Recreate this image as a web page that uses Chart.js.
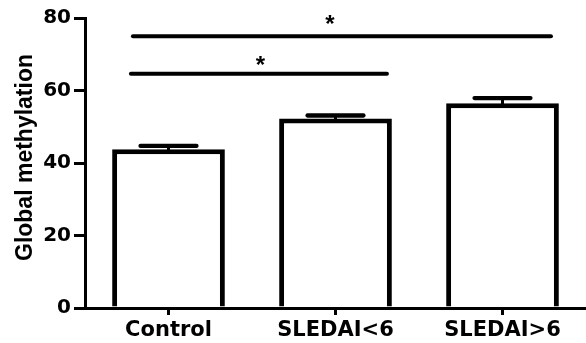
<!DOCTYPE html>
<html><head><meta charset="utf-8">
<script src="https://cdn.jsdelivr.net/npm/chart.js@4/dist/chart.umd.min.js"></script>
<style>html,body{margin:0;padding:0;background:#fff}canvas{display:block}</style>
</head><body>
<canvas id="c" width="586" height="343"></canvas>
<script>
// ---- data ----
const categories = ['Control', 'SLEDAI<6', 'SLEDAI>6'];
const means = [43.8, 52.3, 56.5];
const sem = [0.9, 0.8, 1.4];
const yTickValues = [0, 20, 40, 60, 80];
const yTitle = 'Global methylation';
const sigFrom = [0, 0];
const sigTo = [2, 1];
const sigLevel = [75, 64.6];
const sigLabel = ['*', '*'];

// ---- style constants (not data) ----
const FONT = '"Liberation Sans", Arial, sans-serif';
const WIDE = '"DejaVu Sans", sans-serif';
const BR_START = [-0.213, -0.225];   // fraction of category spacing, relative to "from" category
const BR_END = [0.29, 0.308];        // relative to "to" category
const STAR_X = [0.967, 0.551];       // in category index units
const STAR_DY = [17.5, 14.5];        // px above the line

const errorBars = {
  id: 'errorBars',
  afterDatasetsDraw(chart) {
    const ctx = chart.ctx, y = chart.scales.y;
    const meta = chart.getDatasetMeta(0);
    ctx.save();
    ctx.strokeStyle = '#000';
    meta.data.forEach((bar, i) => {
      const top = y.getPixelForValue(means[i]);
      const cap = y.getPixelForValue(means[i] + sem[i]);
      const half = bar.width * 0.248;
      ctx.lineCap = 'butt';
      ctx.lineWidth = 3;
      ctx.beginPath(); ctx.moveTo(bar.x, top + 1); ctx.lineTo(bar.x, cap); ctx.stroke();
      ctx.lineCap = 'round';
      ctx.lineWidth = 4.3;
      ctx.beginPath(); ctx.moveTo(bar.x - half, cap); ctx.lineTo(bar.x + half, cap); ctx.stroke();
    });
    ctx.restore();
  }
};

const brackets = {
  id: 'brackets',
  afterDraw(chart) {
    const ctx = chart.ctx, x = chart.scales.x, y = chart.scales.y;
    const step = x.getPixelForValue(1) - x.getPixelForValue(0);
    ctx.save();
    ctx.strokeStyle = '#000';
    ctx.fillStyle = '#000';
    ctx.lineCap = 'round';
    ctx.lineWidth = 4;
    sigLevel.forEach((lv, k) => {
      const py = y.getPixelForValue(lv);
      const x0 = x.getPixelForValue(sigFrom[k]) + BR_START[k] * step;
      const x1 = x.getPixelForValue(sigTo[k]) + BR_END[k] * step;
      ctx.beginPath(); ctx.moveTo(x0, py); ctx.lineTo(x1, py); ctx.stroke();
      const sx = x.getPixelForValue(0) + STAR_X[k] * step;
      ctx.font = 'bold 24px ' + FONT;
      ctx.textAlign = 'center';
      ctx.textBaseline = 'alphabetic';
      ctx.fillText(sigLabel[k], sx, py - STAR_DY[k] + 13.5);
    });
    // y-axis title
    ctx.translate(26, 157.5);
    ctx.rotate(-Math.PI / 2);
    ctx.font = 'bold 23px ' + FONT;
    ctx.textAlign = 'center';
    ctx.textBaseline = 'middle';
    ctx.fillText(yTitle, 0, 0);
    ctx.restore();
  }
};

new Chart(document.getElementById('c'), {
  type: 'bar',
  data: {
    labels: categories,
    datasets: [{
      data: means,
      backgroundColor: '#ffffff',
      borderColor: '#000000',
      borderWidth: 5,
      borderSkipped: 'start',
      barPercentage: 0.675,
      categoryPercentage: 1
    }]
  },
  options: {
    responsive: false,
    devicePixelRatio: 1,
    animation: false,
    layout: { padding: { top: 18, right: 0, bottom: 0, left: 0 } },
    plugins: { legend: { display: false }, tooltip: { enabled: false } },
    scales: {
      y: {
        min: yTickValues[0],
        max: yTickValues[yTickValues.length - 1],
        afterBuildTicks(s) { s.ticks = yTickValues.map(v => ({ value: v })); },
        afterFit(s) { s.width = 85; },
        ticks: { color: '#000', padding: 3, font: { family: WIDE, size: 20, weight: 'bold' } },
        grid: { display: true, drawOnChartArea: false, drawTicks: true, tickLength: 11, lineWidth: 3, color: '#000' },
        border: { display: true, width: 3, color: '#000' }
      },
      x: {
        afterFit(s) { s.height = 35; },
        ticks: { color: '#000', padding: 3, maxRotation: 0, autoSkip: false, font: { family: WIDE, size: 21, weight: 'bold' } },
        grid: { display: true, offset: false, drawOnChartArea: false, drawTicks: true, tickLength: 7, lineWidth: 3, color: '#000' },
        border: { display: true, width: 3, color: '#000' }
      }
    }
  },
  plugins: [errorBars, brackets]
});
</script>
</body></html>
